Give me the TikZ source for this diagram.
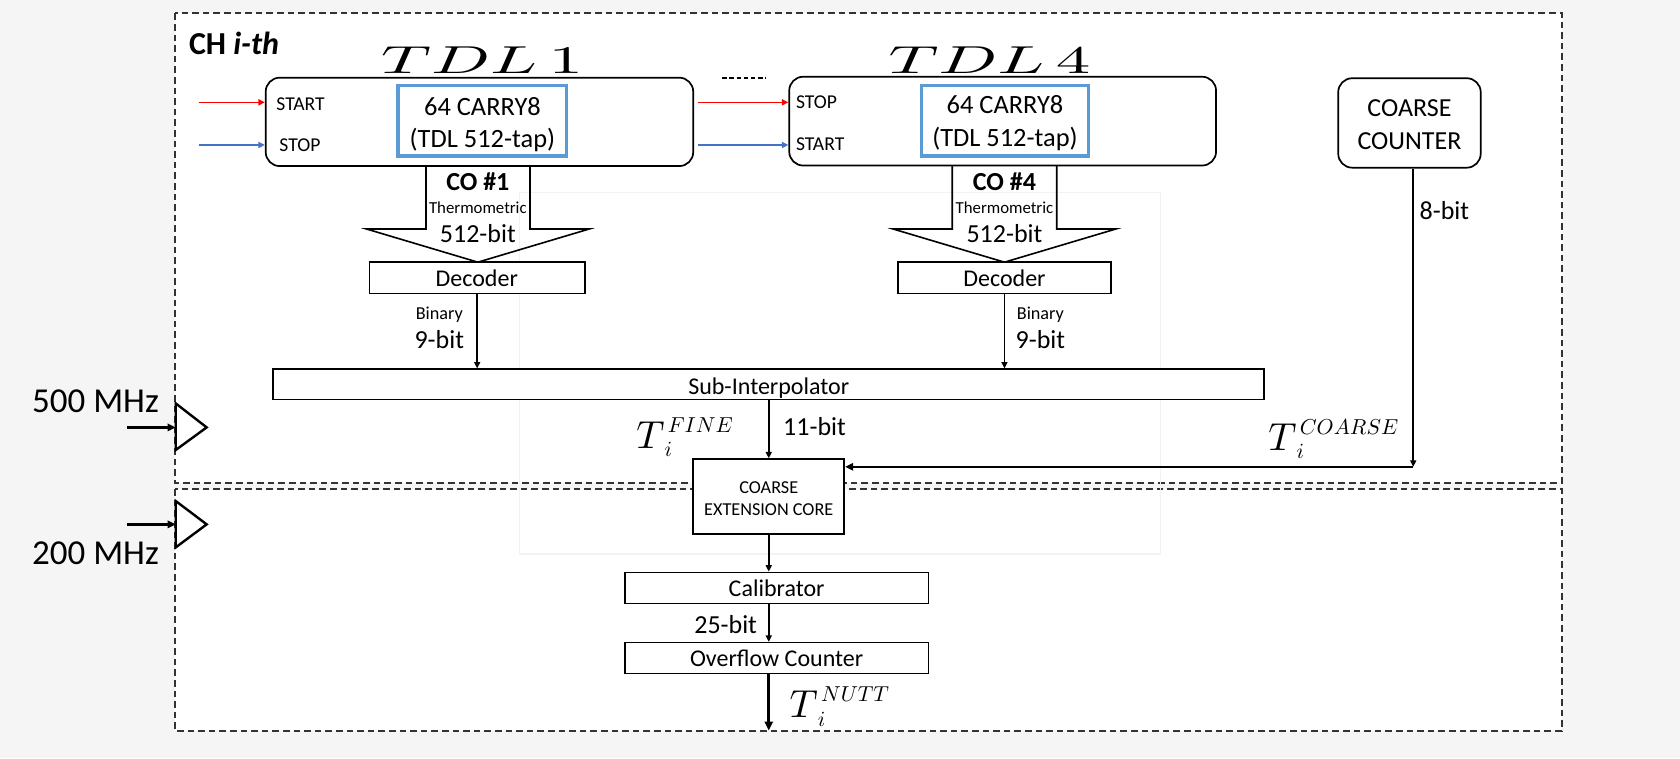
\RequirePackage{fix-cm}
\documentclass[tikz,border=0pt]{standalone}
\usepackage[no-math]{fontspec}
\setmainfont{Carlito}
\usepackage{graphicx}
\usetikzlibrary{arrows.meta,fit}
\definecolor{bggray}{HTML}{F5F5F5}
\definecolor{tdlblue}{HTML}{5B9BD5}
\definecolor{sigblue}{HTML}{4472C4}
\definecolor{sigred}{HTML}{FF0000}
\definecolor{dashgray}{HTML}{333333}
\newcommand{\fsz}[1]{\fontsize{#1}{#1}\selectfont}
\newcommand{\tsym}[1]{\scalebox{1.95}{\fsz{10}$T$}\rlap{\raisebox{-4.2pt}{\fsz{10.8}$i$}}\kern1.6pt\raisebox{8pt}{\fsz{10.8}$#1$}}
\newcommand{\tdlmath}[1]{\scalebox{3.45}[1.95]{\fsz{10}$#1$}}
\begin{document}
\begin{tikzpicture}[x=0.5357pt,y=-0.5357pt,
  txt/.style={inner sep=0pt, outer sep=0pt},
  lbl/.style={txt, font=\fsz{12}},
  bits/.style={txt, font=\fsz{13}},
  tiny/.style={txt, font=\fsz{9.1}},
  sig/.style={txt, font=\fsz{9.8}},
  plainbox/.style={draw, fill=white, line width=0.8pt, inner sep=0pt},
  roundbox/.style={draw, line width=0.85pt, inner sep=0pt, rounded corners=7pt},
  carrybox/.style={draw=tdlblue, line width=1.7pt, inner sep=0pt},
  dbox/.style={draw=dashgray, fill=white, line width=1pt, dash pattern=on 3.3pt off 2pt},
  arr/.style={-{Triangle[length=3.2pt,width=3pt]}, line width=0.8pt},
  arrmid/.style={-{Triangle[length=4pt,width=3.6pt]}, line width=1.2pt},
  arrbig/.style={-{Triangle[length=4.5pt,width=4pt]}, line width=1.6pt},
  clk/.style={line width=1.2pt, line join=miter}
]
% background and frames
\fill[bggray] (0,0) rectangle (1568,707.5);
\useasboundingbox (0,0) rectangle (1568,707.5);
\draw[dbox] (163.5,12.5) rectangle (1458,450.5);
\draw[dbox] (163.5,456.5) rectangle (1457.5,682.3);
\draw[black!5, line width=0.6pt] (485,180) rectangle (1083,517);

% channel label
\node[txt, font=\fsz{16}\bfseries, anchor=base west] (ch) at (176.4,50.4) {CH \textit{i-th}};

% TDL titles
\node[txt, anchor=base] (tdl1lab) at (450,68.4) {\tdlmath{TDL\,1}};
\node[txt, anchor=base] (tdl4lab) at (923.5,68.4) {\tdlmath{TDL\,4}};
\draw[line width=1pt, dash pattern=on 2.2pt off 1.4pt] (674,73) -- (714.5,73);

% TDL boxes
\node[roundbox, fit={(248,72.5) (647,155)}] (tdl1) {};
\node[roundbox, fit={(736.6,71.6) (1135,154.5)}] (tdl4) {};
\node[carrybox, fit={(371.6,80) (529,145.7)}] (c1) {};
\node[carrybox, fit={(860,80) (1016,145.7)}] (c4) {};
\node[txt, font=\fsz{13.2}, anchor=base] (c1a) at (450.3,107.5) {64 CARRY8};
\node[txt, font=\fsz{13.2}, anchor=base] (c1b) at (450.3,138) {(TDL 512-tap)};
\node[txt, font=\fsz{13.2}, anchor=base] (c4a) at (938,106) {64 CARRY8};
\node[txt, font=\fsz{13.2}, anchor=base] (c4b) at (938,137) {(TDL 512-tap)};
\node[sig, anchor=base west] (st1) at (258,103.3) {START};
\node[sig, anchor=base west] (sp1) at (260.8,141.6) {STOP};
\node[sig, anchor=base west] (sp4) at (743,101) {STOP};
\node[sig, anchor=base west] (st4) at (743,140) {START};

% START/STOP signals
\coordinate (rin) at (185.7,95.5);
\coordinate (bin) at (185.7,135.3);
\draw[arr, sigred] (rin) -- (rin -| tdl1.west);
\draw[arr, sigblue] (bin) -- (bin -| tdl1.west);
\draw[arr, sigred] ([xshift=2pt]tdl1.east |- rin) -- (tdl4.west |- rin);
\draw[arr, sigblue] ([xshift=2pt]tdl1.east |- bin) -- (tdl4.west |- bin);

% coarse counter
\node[roundbox, fit={(1249,73) (1382,156.5)}] (cc) {};
\node[txt, font=\fsz{13}, anchor=base] (cca) at (1315.5,108.9) {COARSE};
\node[txt, font=\fsz{13}, anchor=base] (ccb) at (1315.5,139.4) {COUNTER};
\node[bits, anchor=base west] (b8) at (1325,204.4) {8-bit};

% block arrows (CO outputs)
\draw[line width=0.8pt, line join=miter] (397.6,155) -- (397.6,213.7) -- (342,213.7) -- (446,244.7) -- (550,213.7) -- (494.7,213.7) -- (494.7,155);
\draw[line width=0.8pt, line join=miter] (888.8,155) -- (888.8,213.7) -- (833.5,213.7) -- (937.5,244.7) -- (1041.5,213.7) -- (986.3,213.7) -- (986.3,155);
\node[txt, font=\fsz{13}\bfseries, anchor=base] (co1) at (446,178) {CO \#1};
\node[txt, font=\fsz{8.4}, anchor=base] (th1) at (446,199.1) {Thermometric};
\node[bits, anchor=base] (w1) at (446,226.5) {512-bit};
\node[txt, font=\fsz{13}\bfseries, anchor=base] (co4) at (937.5,178) {CO \#4};
\node[txt, font=\fsz{8.4}, anchor=base] (th4) at (937.5,199.1) {Thermometric};
\node[bits, anchor=base] (w4) at (937.5,226.5) {512-bit};

% decoders
\node[plainbox, fit={(344.7,244.7) (546,273.8)}] (dec1) {};
\node[plainbox, fit={(838,244.7) (1037,273.8)}] (dec2) {};
\node[lbl, anchor=base] (dec1t) at (445,267.6) {Decoder};
\node[lbl, anchor=base] (dec2t) at (937.5,267.6) {Decoder};

% sub-interpolator
\node[plainbox, fit={(255,344.6) (1180,372.7)}] (sub) {};
\node[lbl, anchor=base] (subt) at (717.5,368) {Sub-Interpolator};
\draw[arr] (dec1.south) -- (dec1.south |- sub.north);
\draw[arr] (dec2.south) -- (dec2.south |- sub.north);
\node[txt, font=\fsz{9.1}, anchor=base] (bn1) at (410,298) {Binary};
\node[bits, anchor=base] (n1) at (410,325) {9-bit};
\node[txt, font=\fsz{9.1}, anchor=base] (bn2) at (971,298) {Binary};
\node[bits, anchor=base] (n2) at (971,325) {9-bit};

% coarse extension core
\node[plainbox, fit={(647,428.5) (788,498.4)}] (ext) {};
\node[tiny, anchor=base] (exta) at (717.5,461) {COARSE};
\node[tiny, anchor=base] (extb) at (717.5,480.7) {EXTENSION CORE};
\draw[arr] (sub.south -| ext.north) -- (ext.north);
\node[bits, anchor=base west] (b11) at (731,406) {11-bit};
\node[txt, anchor=base west] (tfine) at (594,418.5) {\tsym{FINE}};

% coarse path
\coordinate (corner) at (1319,435.7);
\draw[arr] (cc.south -| corner) -- (corner);
\draw[arrmid] (corner) -- (corner -| ext.east);
\node[txt, anchor=base west] (tcoarse) at (1183.8,420) {\tsym{COARSE}};

% calibrator and overflow
\node[plainbox, fit={(583.3,534.2) (866.5,563.1)}] (cal) {};
\node[lbl, anchor=base] (calt) at (724.9,556.9) {Calibrator};
\node[plainbox, fit={(583.3,599.8) (866.5,628.5)}] (ovf) {};
\node[lbl, anchor=base] (ovft) at (724.9,622.2) {Overflow Counter};
\draw[arr] (ext.south) -- (ext.south |- cal.north);
\draw[arr] (cal.south -| ext.south) -- (ovf.north -| ext.south);
\node[bits, anchor=base east] (b25) at (706.5,591) {25-bit};
\coordinate (nuttend) at (717.5,682);
\draw[arrbig] (ovf.south -| ext.south) -- (nuttend);
\node[txt, anchor=base west] (tnutt) at (737,670) {\tsym{NUTT}};

% clock inputs
\draw[clk] (164,376.5) -- (192.9,398.9) -- (164,420) -- cycle;
\draw[clk] (164,467.6) -- (192.9,489.4) -- (164,510.9) -- cycle;
\coordinate (clkA) at (164,398.9);
\coordinate (clkB) at (164,489.4);
\coordinate (inA) at (118.2,398.9);
\coordinate (inB) at (118.2,489.4);
\draw[arrmid, line width=1.3pt] (inA) -- (clkA);
\draw[arrmid, line width=1.3pt] (inB) -- (clkB);
\node[txt, font=\fsz{17.5}, anchor=base west] (f500) at (30,385) {500 MHz};
\node[txt, font=\fsz{17.5}, anchor=base west] (f200) at (30,527) {200 MHz};
\end{tikzpicture}
\end{document}
